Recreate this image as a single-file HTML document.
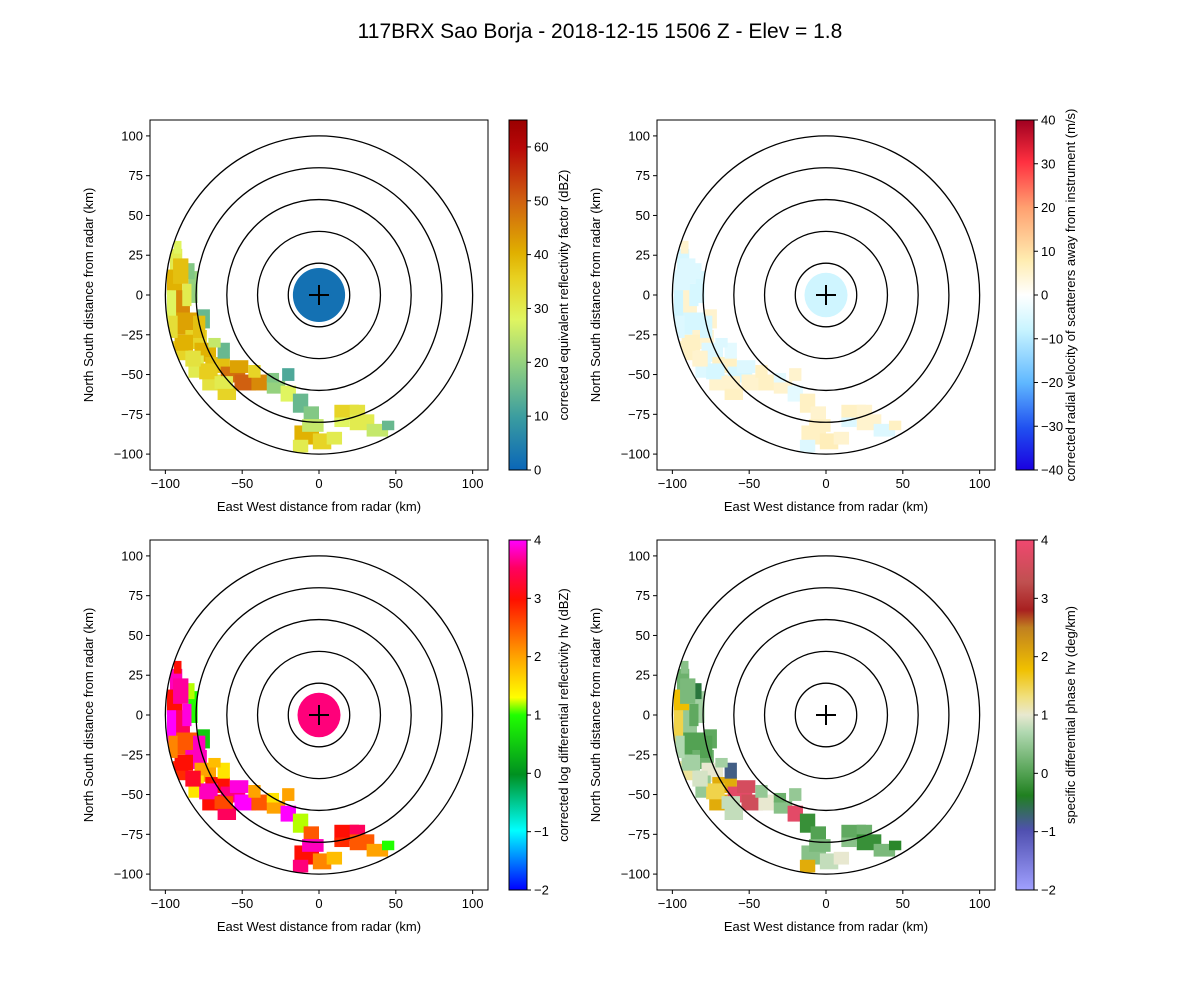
<!DOCTYPE html>
<html><head><meta charset="utf-8">
<style>
html,body{margin:0;padding:0;background:#fff;}
svg{display:block;font-family:"Liberation Sans","DejaVu Sans",sans-serif;}
</style></head>
<body>
<svg id="fig" width="1200" height="1000" viewBox="0 0 1200 1000" xmlns="http://www.w3.org/2000/svg">
<rect width="1200" height="1000" fill="#fff"/>
<text x="600" y="38" font-size="21" text-anchor="middle">117BRX Sao Borja - 2018-12-15 1506 Z -  Elev = 1.8</text>
</svg>
<script>
// ---- data (km) ----
const blobX = [-93,-94,-90,-86,-96,-80,-74,-66,-56,-48,-38,-70,-80,-60,-28,-20,-12,-5,-8,2,-12,18,28,38,-82,-75,-62,-20,-90,-85,
 -90,-88,-72,-62,-52,-42,-30,-82,-78,-95,-4,10,15,45,25,-68,-86,-92];
const blobY = [22,8,-5,-18,-8,-28,-36,-44,-50,-55,-55,-55,-45,-62,-58,-62,-68,-75,-88,-92,-95,-74,-80,-85,5,-15,-35,-50,-35,15,
 15,-30,-48,-55,-45,-48,-52,-40,-20,-20,-82,-90,-80,-82,-72,-30,0,30];
const blobW = [8,10,12,14,6,14,14,16,16,14,12,12,10,12,12,10,10,10,16,12,10,16,16,14,6,8,8,8,10,8,
 10,12,12,12,12,8,8,10,8,6,14,10,10,8,10,8,6,5];
const blobH = [14,16,16,14,22,12,12,10,10,10,10,10,14,8,8,10,12,10,12,10,8,10,10,8,20,12,10,8,12,10,
 16,10,10,8,8,8,6,10,14,14,8,8,6,6,6,6,14,8];
const reflValues = [30,40,45,42,28,35,40,38,48,50,45,32,30,35,20,28,15,18,40,35,30,35,30,25,20,15,15,12,35,18,
 38,40,36,30,42,35,18,32,38,33,25,30,28,15,32,25,30,28];
const velValues = [-6,-5,5,-6,-7,5,-5,6,-6,5,6,5,-5,6,5,-4,6,5,6,7,-5,6,5,-5,-6,5,-4,5,6,-5,
 -5,6,-6,5,-5,6,-4,5,-6,-5,6,5,-5,6,5,-5,-6,5];
const zdrValues = [3.8,3,3.5,2.5,4,3.8,2,3,3.6,4,2.5,3,1.5,3.5,2,4,1.2,2.5,3,2.2,3.6,3,2.5,2,1,0.5,1.5,2,2.8,1.2,
 3.7,3,3.8,2.6,3.9,2,1.5,3.2,3.8,2.2,3.8,1.8,2.8,1,3.5,1.8,3.9,3];
const kdpValues = [0.2,1.8,0.5,0,1.5,0.2,1,2,3.8,3.5,1,2,0.5,0.8,0.4,3.8,-0.2,0,0.4,0.8,2,0.1,-0.2,0.3,0.6,0.1,-0.8,0.5,1.2,-0.5,
 0.3,0.6,1.5,0.8,3.6,0.5,0.2,0.9,0,0.7,0.3,1,0.4,-0.3,0.2,0.6,0.1,0.4];
const centerRadius = [17,14,14,0];
const centerValues = [2,-7,3.6,0];
const ringRadii = [20,40,60,80,100];
const axisTicks = [-100,-50,0,50,100];
const yTicks = [-100,-75,-50,-25,0,25,50,75,100];
const cbTicks = [[0,10,20,30,40,50,60],[-40,-30,-20,-10,0,10,20,30,40],[-2,-1,0,1,2,3,4],[-2,-1,0,1,2,3,4]];
const cbRange = [[0,65],[-40,40],[-2,4],[-2,4]];
const cbLabels = ["corrected equivalent reflectivity factor (dBZ)","corrected radial velocity of scatterers away from instrument (m/s)","corrected log differential reflectivity hv (dBZ)","specific differential phase hv (deg/km)"];
const panelValues = [reflValues, velValues, zdrValues, kdpValues];

// ---- colormaps (fraction, color) ----
const cmaps = [
 [[0,"#0a66b8"],[0.15,"#3a9ca0"],[0.3,"#90d080"],[0.43,"#e0f560"],[0.55,"#e8d020"],[0.62,"#e0b000"],[0.77,"#d06010"],[0.92,"#b80808"],[1,"#9a0000"]],
 [[0,"#1a00e0"],[0.12,"#2050f0"],[0.25,"#60b8ff"],[0.4,"#c8f4ff"],[0.5,"#ffffff"],[0.6,"#ffecb0"],[0.75,"#ffa070"],[0.88,"#ff3040"],[1,"#a00020"]],
 [[0,"#0000ff"],[0.17,"#00ffff"],[0.33,"#009020"],[0.5,"#20ff00"],[0.55,"#ffff00"],[0.67,"#ffa000"],[0.83,"#ff1000"],[0.92,"#ff0060"],[1,"#ff00ff"]],
 [[0,"#a0a0ff"],[0.17,"#5050b0"],[0.27,"#208020"],[0.33,"#50a050"],[0.45,"#b0d8b0"],[0.5,"#e8e8d0"],[0.55,"#f0e080"],[0.63,"#f0c000"],[0.75,"#c08020"],[0.8,"#a82020"],[0.88,"#c05050"],[1,"#f04870"]]
];
function hex(c){return [parseInt(c.slice(1,3),16),parseInt(c.slice(3,5),16),parseInt(c.slice(5,7),16)];}
function cmap(i,f){const s=cmaps[i];f=Math.max(0,Math.min(1,f));
 for(let k=1;k<s.length;k++){if(f<=s[k][0]){const a=hex(s[k-1][1]),b=hex(s[k][1]);const t=(f-s[k-1][0])/(s[k][0]-s[k-1][0]||1);
 return "rgb("+a.map((v,j)=>Math.round(v+(b[j]-v)*t)).join(",")+")";}}return s[s.length-1][1];}

const NS="http://www.w3.org/2000/svg";
const svg=document.getElementById('fig');
function el(tag,attrs,parent){const e=document.createElementNS(NS,tag);for(const k in attrs)e.setAttribute(k,attrs[k]);(parent||svg).appendChild(e);return e;}

const panels=[{l:150,t:120},{l:657,t:120},{l:150,t:540},{l:657,t:540}];
const AW=338,AH=350;
panels.forEach((p,pi)=>{
 const g=el('g',{});
 
 
 const sx=v=>p.l+(v+110)/220*AW;
 const sy=v=>p.t+(110-v)/220*AH;
 const kx=AW/220, ky=AH/220;
 const cid='clip'+pi;
 const cp=el('clipPath',{id:cid},g);
 el('ellipse',{cx:sx(0),cy:sy(0),rx:100*kx,ry:100*ky},cp);
 const dg=el('g',{'clip-path':'url(#'+cid+')'},g);
 const [lo,hi]=cbRange[pi];
 const vals=panelValues[pi];
 for(let i=0;i<blobX.length;i++){
  const r=el('rect',{x:sx(blobX[i]-blobW[i]/2),y:sy(blobY[i]+blobH[i]/2),width:blobW[i]*kx,height:blobH[i]*ky,fill:cmap(pi,(vals[i]-lo)/(hi-lo))},dg);
  
  
 }
 if(centerRadius[pi]>0){
  const c=el('ellipse',{cx:sx(0),cy:sy(0),rx:centerRadius[pi]*kx,ry:centerRadius[pi]*ky,fill:cmap(pi,(centerValues[pi]-lo)/(hi-lo))},dg);
  
  
 }
 ringRadii.forEach(rr=>{
  const e=el('ellipse',{cx:sx(0),cy:sy(0),rx:rr*kx,ry:rr*ky,fill:'none',stroke:'#000','stroke-width':1.3},g);
  
  
 });
 const m=el('path',{d:`M${sx(0)-10},${sy(0)}h20M${sx(0)},${sy(0)-10}v20`,stroke:'#000','stroke-width':2},g);
 
 
 const fr=el('rect',{x:p.l,y:p.t,width:AW,height:AH,fill:'none',stroke:'#000','stroke-width':1},g);
 
 
 axisTicks.forEach(v=>{
  el('line',{x1:sx(v),x2:sx(v),y1:p.t+AH,y2:p.t+AH+4,stroke:'#000'},g);
  const t=el('text',{x:sx(v),y:p.t+AH+18,'font-size':13,'text-anchor':'middle'},g);
  t.textContent=v<0?'\u2212'+(-v):v;
  
  
 });
 yTicks.forEach(v=>{
  el('line',{x1:p.l-4,x2:p.l,y1:sy(v),y2:sy(v),stroke:'#000'},g);
  const t=el('text',{x:p.l-7,y:sy(v)+4.5,'font-size':13,'text-anchor':'end'},g);
  t.textContent=v<0?'\u2212'+(-v):v;
  
  
 });
 const xt=el('text',{x:p.l+AW/2,y:p.t+AH+41,'font-size':13,'text-anchor':'middle'},g);
 xt.textContent='East West distance from radar (km)';
 
 
 const yx=p.l-57, yy=p.t+AH/2;
 const yt=el('text',{x:yx,y:yy,'font-size':13,'text-anchor':'middle',transform:`rotate(-90 ${yx} ${yy})`},g);
 yt.textContent='North South distance from radar (km)';
 
 
 const cx=p.l+359, cw=18;
 const gid='grad'+pi;
 const lg=el('linearGradient',{id:gid,x1:0,y1:1,x2:0,y2:0},g);
 cmaps[pi].forEach(s=>el('stop',{offset:s[0],'stop-color':s[1]},lg));
 const cb=el('rect',{x:cx,y:p.t,width:cw,height:AH,fill:'url(#'+gid+')',stroke:'#000','stroke-width':1},g);
 
 
 cbTicks[pi].forEach(v=>{
  const y=p.t+AH-(v-lo)/(hi-lo)*AH;
  el('line',{x1:cx+cw,x2:cx+cw+4,y1:y,y2:y,stroke:'#000'},g);
  const t=el('text',{x:cx+cw+7,y:y+4.5,'font-size':13},g);
  t.textContent=v<0?'\u2212'+(-v):v;
  
  
 });
 const lx=cx+cw+41, ly=p.t+AH/2;
 const ct=el('text',{x:lx,y:ly,'font-size':13,'text-anchor':'middle',transform:`rotate(-90 ${lx} ${ly})`},g);
 ct.textContent=cbLabels[pi];
 
 
});
</script>
</body></html>
